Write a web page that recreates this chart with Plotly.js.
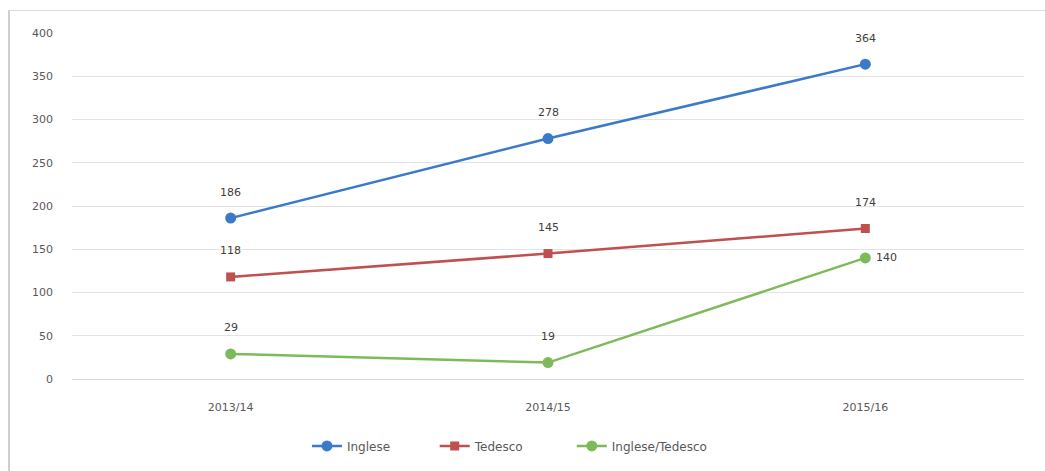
<!DOCTYPE html>
<html>
<head>
<meta charset="utf-8">
<script src="https://cdn.plot.ly/plotly-3.0.1.min.js"></script>
<style>
html,body{margin:0;padding:0;background:#fff;}
#chart{width:1045px;height:471px;}
#frame{position:absolute;left:8px;top:10px;width:1100px;height:500px;border-left:2px solid #cfcfcf;border-top:1px solid #dcdcdc;pointer-events:none;}
</style>
</head>
<body>
<div id="chart"></div>
<div id="frame"></div>
<script>
const categories = ['2013/14', '2014/15', '2015/16'];
const seriesNames = ['Inglese', 'Tedesco', 'Inglese/Tedesco'];
const inglese = [186, 278, 364];
const tedesco = [118, 145, 174];
const ingleseTedesco = [29, 19, 140];
const yTicks = [0, 50, 100, 150, 200, 250, 300, 350, 400];

const colors = ['#3a7ac8', '#c0504d', '#7dbb5a'];
const symbols = ['circle', 'square', 'circle'];
const sizes = [11, 9, 11];
const allSeries = [inglese, tedesco, ingleseTedesco];
const legendIds = ['legend', 'legend2', 'legend3'];
const legendX = [0.2468, 0.381, 0.525];
const FONT = 'DejaVu Sans, Liberation Sans, Arial, sans-serif';

const traces = allSeries.map((vals, i) => ({
  x: categories, y: vals, name: seriesNames[i], type: 'scatter', mode: 'lines+markers',
  line: {color: colors[i], width: 2.5},
  marker: {color: colors[i], symbol: symbols[i], size: sizes[i]},
  legend: legendIds[i],
  hoverinfo: 'x+y'
}));

const annotations = [];
allSeries.forEach((vals, i) => {
  vals.forEach((v, j) => {
    const right = (i === 2 && j === 2);
    annotations.push({
      x: categories[j], y: v, xref: 'x', yref: 'y', text: String(v), showarrow: false,
      xanchor: right ? 'left' : 'center', yanchor: 'middle',
      xshift: right ? 9 : 0, yshift: right ? 0 : 26,
      font: {family: FONT, size: 11, color: '#404040'}
    });
  });
});

const layout = {
  width: 1045, height: 471,
  margin: {l: 72, r: 21, t: 33, b: 91},
  paper_bgcolor: '#ffffff', plot_bgcolor: '#ffffff',
  font: {family: FONT, size: 11, color: '#595959'},
  xaxis: {
    type: 'category', range: [-0.5, 2.5], showgrid: false, zeroline: false,
    showline: false, ticks: '', ticklabelstandoff: 20, tickfont: {size: 11, color: '#595959'}
  },
  yaxis: {
    range: [0, 400], tickvals: yTicks, ticktext: yTicks.map(String),
    showgrid: true, gridcolor: '#e3e3e3', gridwidth: 1, zeroline: true, zerolinecolor: '#d9d9d9',
    showline: false, ticks: '', ticklabelstandoff: 18, tickfont: {size: 11, color: '#595959'}
  },
  showlegend: true,
  annotations: annotations
};
legendIds.forEach((id, i) => {
  layout[id] = {orientation: 'h', x: legendX[i], xanchor: 'left', y: -0.19, yanchor: 'middle',
    font: {size: 12, color: '#595959'}, bgcolor: 'rgba(0,0,0,0)'};
});

Plotly.newPlot('chart', traces, layout, {displayModeBar: false, staticPlot: true});
</script>
</body>
</html>
